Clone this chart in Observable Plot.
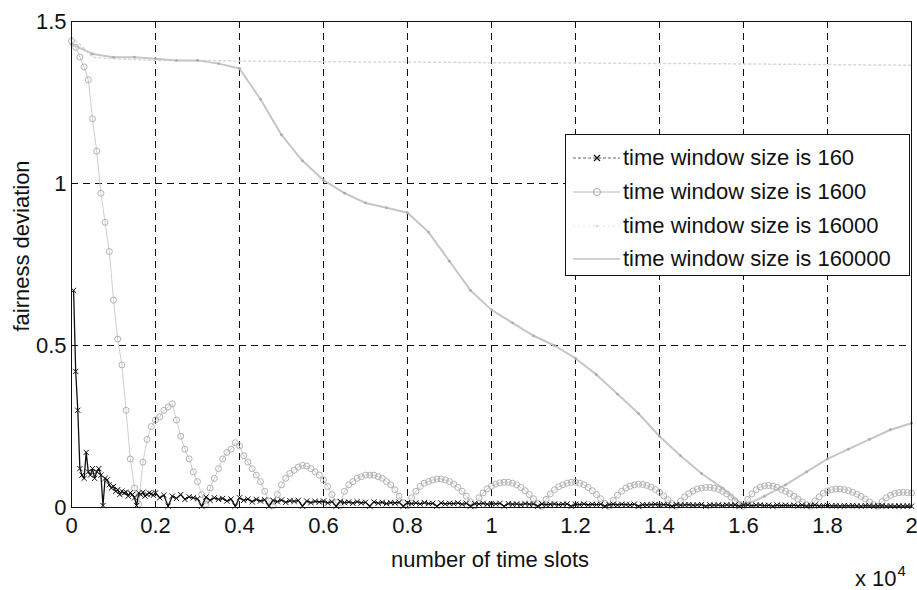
<!DOCTYPE html>
<html><head><meta charset="utf-8">
<script src="https://cdn.jsdelivr.net/npm/d3@7"></script>
<script src="https://cdn.jsdelivr.net/npm/@observablehq/plot@0.6"></script>
<style>
body{margin:0;background:#fff;font-family:"Liberation Sans",Arial,sans-serif;}
#wrap{position:relative;width:917px;height:590px;overflow:hidden;}
.lbl{position:absolute;font-size:22px;line-height:1;color:#111;white-space:nowrap;}
#legend{position:absolute;left:565px;top:134px;width:345px;height:142px;background:#fff;border:1px solid #111;box-sizing:border-box;}
.row{position:absolute;left:7px;height:30px;display:flex;align-items:center;font-size:22px;color:#111;white-space:nowrap;}
.row svg{margin-right:1px;}
</style></head><body>
<div id="wrap"></div>
<script>
// ---- tick values ----
const xTicks = [0, 0.2, 0.4, 0.6, 0.8, 1, 1.2, 1.4, 1.6, 1.8, 2];
const yTicks = [0, 0.5, 1, 1.5];
const xGrid = [0.2, 0.4, 0.6, 0.8, 1, 1.2, 1.4, 1.6, 1.8];
const yGrid = [0.5, 1];

// ---- series labels ----
const seriesNames = ["time window size is 160", "time window size is 1600", "time window size is 16000", "time window size is 160000"];

// ---- window 160 (black, x markers) : x in units of 10^4 time slots ----
const x160Head = [0.005,0.01,0.015,0.02,0.025,0.03,0.035,0.04,0.045,0.05,0.055,0.06,0.065,0.07,0.075,0.08,0.085,0.09,0.095,0.1,0.105,0.11,0.115,0.12,0.125,0.13,0.135,0.14,0.145,0.15,0.155,0.16,0.165,0.17,0.175,0.18,0.185,0.19,0.195];
const y160Head = [0.67,0.42,0.3,0.12,0.1,0.09,0.17,0.11,0.1,0.12,0.09,0.11,0.12,0.1,0.006,0.09,0.085,0.07,0.06,0.065,0.05,0.055,0.04,0.05,0.045,0.047,0.035,0.045,0.04,0.03,0.006,0.045,0.04,0.047,0.035,0.04,0.045,0.042,0.038];
const x160TailStart = 0.2, x160TailStep = 0.01;
const y160Tail = [
0.045,0.03,0.038,0.004,0.035,0.028,0.04,0.025,0.033,0.03,
0.027,0.004,0.032,0.022,0.03,0.025,0.028,0.02,0.026,0.004,
0.03,0.022,0.026,0.018,0.025,0.02,0.024,0.004,0.022,0.018,
0.023,0.016,0.021,0.019,0.022,0.004,0.02,0.015,0.019,0.017,
0.02,0.014,0.018,0.004,0.019,0.015,0.017,0.013,0.018,0.014,
0.016,0.004,0.017,0.013,0.016,0.012,0.015,0.014,0.016,0.004,
0.015,0.012,0.014,0.011,0.015,0.012,0.013,0.004,0.014,0.011,
0.013,0.012,0.014,0.01,0.013,0.004,0.012,0.011,0.013,0.01,
0.012,0.011,0.013,0.004,0.012,0.01,0.011,0.009,0.012,0.01,
0.011,0.004,0.011,0.009,0.01,0.011,0.009,0.01,0.011,0.004,
0.01,0.009,0.011,0.008,0.01,0.009,0.01,0.004,0.009,0.01,
0.008,0.01,0.009,0.008,0.01,0.004,0.009,0.008,0.009,0.01,
0.008,0.009,0.008,0.004,0.009,0.007,0.008,0.009,0.007,0.008,
0.009,0.004,0.008,0.007,0.008,0.006,0.008,0.007,0.008,0.004,
0.007,0.008,0.006,0.007,0.008,0.006,0.007,0.004,0.007,0.006,
0.007,0.006,0.007,0.005,0.007,0.004,0.006,0.007,0.005,0.006,
0.006,0.005,0.006,0.004,0.006,0.005,0.006,0.005,0.004,0.006,
0.005,0.004,0.005,0.006,0.004,0.005,0.004,0.005,0.004,0.005,
0.004];

// ---- window 1600 (gray, circle markers), samples every 0.01 from 0 ----
const x1600Start = 0, x1600Step = 0.01;
const y1600 = [
1.44,1.42,1.39,1.36,1.32,1.2,1.1,0.97,0.88,0.79,0.64,0.52,0.44,0.3,0.15,0.06,0.01,
0.14,0.21,0.25,0.27,0.28,0.3,0.31,0.32,0.27,0.22,0.18,0.15,0.11,0.08,0.04,0.01,
0.06,0.09,0.12,0.15,0.17,0.18,0.2,0.19,0.16,0.14,0.12,0.1,0.08,0.05,0.02,0.005,
0.04,0.07,0.09,0.105,0.115,0.125,0.13,0.128,0.12,0.11,0.1,0.085,0.065,0.04,0.015,0.005,
0.05,0.07,0.08,0.09,0.095,0.1,0.1,0.1,0.095,0.09,0.08,0.07,0.055,0.035,0.015,0.005,
0.03,0.05,0.065,0.075,0.08,0.085,0.088,0.088,0.085,0.08,0.072,0.062,0.05,0.035,0.018,0.005,
0.03,0.045,0.058,0.066,0.072,0.076,0.078,0.078,0.075,0.07,0.062,0.052,0.04,0.027,0.013,0.004,
0.025,0.042,0.055,0.064,0.07,0.075,0.078,0.078,0.075,0.07,0.062,0.052,0.04,0.027,0.013,0.004,
0.022,0.038,0.05,0.06,0.066,0.07,0.072,0.071,0.068,0.063,0.056,0.047,0.036,0.024,0.012,0.004,
0.02,0.033,0.043,0.051,0.057,0.06,0.062,0.062,0.06,0.056,0.05,0.042,0.032,0.021,0.01,0.004,
0.025,0.042,0.055,0.063,0.067,0.068,0.066,0.062,0.056,0.05,0.043,0.035,0.026,0.017,0.009,0.004,
0.02,0.033,0.044,0.051,0.055,0.057,0.057,0.055,0.052,0.047,0.041,0.034,0.026,0.017,0.009,0.004,
0.018,0.03,0.038,0.043,0.046,0.047,0.046,0.045];

// ---- window 16000 (very faint, nearly flat near the top) ----
const x16000 = [0,0.02,0.05,0.1,0.2,0.3,0.4,0.5,0.6,0.7,0.8,0.9,1.0,1.1,1.2,1.3,1.4,1.5,1.6,1.7,1.8,1.9,2.0];
const y16000 = [1.45,1.43,1.39,1.385,1.38,1.38,1.378,1.377,1.376,1.375,1.375,1.374,1.373,1.373,1.372,1.371,1.37,1.37,1.369,1.368,1.367,1.366,1.365];

// ---- window 160000 (light gray line, slow descent) ----
const x160000 = [0,0.05,0.1,0.15,0.2,0.25,0.3,0.35,0.4,0.45,0.5,0.55,0.6,0.65,0.7,0.75,0.8,0.85,0.9,0.95,1.0,1.05,1.1,1.15,1.2,1.25,1.3,1.35,1.4,1.45,1.5,1.55,1.6,1.65,1.7,1.75,1.8,1.85,1.9,1.95,2.0];
const y160000 = [1.43,1.4,1.39,1.39,1.385,1.38,1.38,1.37,1.355,1.26,1.15,1.07,1.01,0.97,0.94,0.925,0.91,0.85,0.76,0.67,0.61,0.57,0.53,0.5,0.46,0.41,0.35,0.29,0.22,0.16,0.105,0.06,0.005,0.035,0.07,0.11,0.15,0.18,0.21,0.24,0.26];

// ---- build tables ----
const d160 = x160Head.map((x, i) => ({x, y: y160Head[i]}))
  .concat(y160Tail.map((y, i) => ({x: +(x160TailStart + i * x160TailStep).toFixed(3), y})));
const d1600 = y1600.map((y, i) => ({x: +(x1600Start + i * x1600Step).toFixed(3), y}));
const d16000 = x16000.map((x, i) => ({x, y: y16000[i]}));
const d160000 = x160000.map((x, i) => ({x, y: y160000[i]}));

const FONT = '"Liberation Sans", Arial, sans-serif';
const chart = Plot.plot({
  width: 917, height: 590,
  marginLeft: 71, marginRight: 6, marginTop: 21, marginBottom: 83,
  style: {fontFamily: FONT, background: "white", color: "#111"},
  x: {domain: [0, 2]},
  y: {domain: [0, 1.5]},
  marks: [
    Plot.ruleX(xGrid, {stroke: "#111", strokeWidth: 1, strokeDasharray: "7,5"}),
    Plot.ruleY(yGrid, {stroke: "#111", strokeWidth: 1, strokeDasharray: "7,5"}),
    Plot.line(d16000, {x: "x", y: "y", stroke: "#d8d8d8", strokeWidth: 1.5, strokeDasharray: "2,3"}),
    Plot.line(d160000, {x: "x", y: "y", stroke: "#c6c6c6", strokeWidth: 2}),
    Plot.dot(d160000, {x: "x", y: "y", r: 1.4, fill: "#acacac"}),
    Plot.line(d1600, {x: "x", y: "y", stroke: "#cfcfcf", strokeWidth: 1}),
    Plot.dot(d1600, {x: "x", y: "y", symbol: "circle", r: 3, stroke: "#b2b2b2", fill: "none", strokeWidth: 1}),
    Plot.line(d160, {x: "x", y: "y", stroke: "#111", strokeWidth: 1.3}),
    Plot.dot(d160, {x: "x", y: "y", symbol: "times", r: 2.5, stroke: "#111", strokeWidth: 1}),
    Plot.frame({stroke: "#111", strokeWidth: 1}),
    Plot.axisX(xTicks, {tickSize: 0, tickPadding: 10, tickFormat: d => String(d), fontSize: 22, label: null}),
    Plot.axisY(yTicks, {tickSize: 0, tickPadding: 5, tickFormat: d => String(d), fontSize: 22, label: null})
  ]
});
const wrap = document.getElementById("wrap");
wrap.appendChild(chart);

// axis labels
function addLabel(html, css) {
  const d = document.createElement("div");
  d.className = "lbl";
  d.innerHTML = html;
  Object.assign(d.style, css);
  wrap.appendChild(d);
  return d;
}
addLabel("fairness deviation", {left: "22px", top: "246px", transform: "translate(-50%,-50%) rotate(-90deg)"});
addLabel("number of time slots", {left: "490px", top: "560px", transform: "translate(-50%,-50%)"});
addLabel('x 10<span style="font-size:15px;position:relative;top:-10px;margin-left:1px">4</span>', {left: "855px", top: "568px"});

// legend
const legend = document.createElement("div");
legend.id = "legend";
wrap.appendChild(legend);
const swatches = [
  '<line x1="0" y1="15" x2="47" y2="15" stroke="#666" stroke-width="1" stroke-dasharray="3,2"/><path d="M21,12 L27,18 M27,12 L21,18" stroke="#111" stroke-width="1.2"/>',
  '<line x1="0" y1="15" x2="47" y2="15" stroke="#b8b8b8" stroke-width="1"/><circle cx="24" cy="15" r="3.5" fill="none" stroke="#a8a8a8"/>',
  '<line x1="0" y1="15" x2="47" y2="15" stroke="#e4e4e4" stroke-width="1" stroke-dasharray="2,3"/><circle cx="24" cy="15" r="1.2" fill="#d4d4d4"/>',
  '<line x1="0" y1="15" x2="47" y2="15" stroke="#c0c0c0" stroke-width="1.6"/>'
];
const rowTops = [8, 42, 76, 109];
seriesNames.forEach((name, i) => {
  const r = document.createElement("div");
  r.className = "row";
  r.style.top = rowTops[i] + "px";
  r.innerHTML = `<svg width="49" height="30">${swatches[i]}</svg><span>${name}</span>`;
  legend.appendChild(r);
});
</script>
</body></html>
